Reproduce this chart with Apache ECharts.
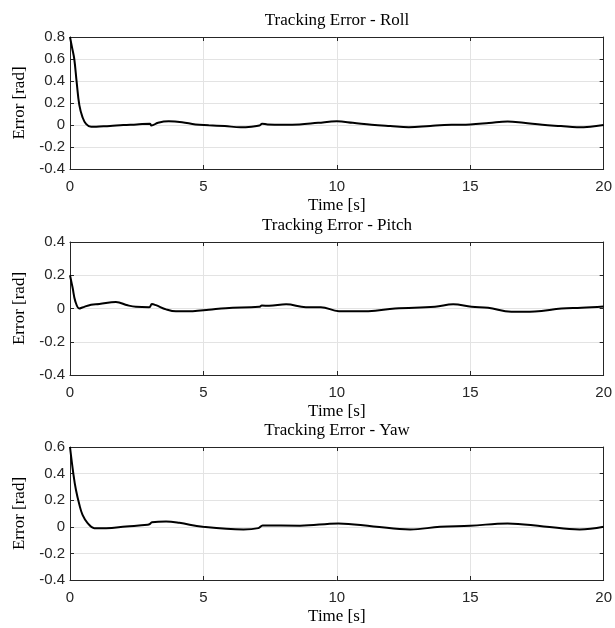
<!DOCTYPE html>
<html>
<head>
<meta charset="utf-8">
<script src="https://cdn.jsdelivr.net/npm/echarts@6/dist/echarts.min.js"></script>
<style>
  html, body { margin: 0; padding: 0; background: #fff; }
  #chart { width: 615px; height: 628px; }
</style>
</head>
<body>
<div id="chart"></div>
<script>
// tracking error
const rollT = [0, 0.08, 0.16, 0.25, 0.35, 0.47, 0.6, 0.79, 1.1, 1.5, 2, 2.5, 3.0, 3.05, 3.3, 3.7, 4.2, 4.7, 5.2, 5.8, 6.4, 6.8, 7.1, 7.2, 7.4, 8, 8.6, 9.3, 10, 10.6, 11.3, 12, 12.7, 13.5, 14.3, 15, 15.7, 16.4, 17, 17.7, 18.4, 19, 19.5, 20]
const rollE = [0.8, 0.7, 0.6, 0.39, 0.18, 0.07, 0.01, -0.017, -0.013, -0.008, 0, 0.005, 0.012, -0.005, 0.02, 0.033, 0.025, 0.005, -0.002, -0.01, -0.02, -0.015, -0.005, 0.012, 0.005, 0.002, 0.005, 0.02, 0.033, 0.02, 0.002, -0.01, -0.02, -0.008, 0.002, 0.005, 0.018, 0.032, 0.02, 0.002, -0.01, -0.02, -0.015, 0]

const pitchT = [0, 0.1, 0.2, 0.35, 0.46, 0.79, 1.1, 1.72, 2.16, 2.47, 2.97, 3.07, 3.22, 3.6, 3.97, 4.6, 5.2, 5.84, 7.09, 7.19, 7.46, 8.1, 8.84, 9.4, 10.08, 11.18, 12.18, 13.68, 14.36, 15.05, 15.67, 16.54, 17.42, 18.42, 19.17, 20]
const pitchE = [0.2, 0.123, 0.043, 0, 0.006, 0.023, 0.027, 0.039, 0.019, 0.01, 0.008, 0.027, 0.02, -0.005, -0.017, -0.016, -0.008, 0.002, 0.01, 0.018, 0.016, 0.025, 0.008, 0.008, -0.016, -0.016, 0, 0.01, 0.025, 0.01, 0.005, -0.02, -0.018, 0, 0.004, 0.012]

const yawT = [0, 0.125, 0.22, 0.35, 0.47, 0.66, 0.91, 1.35, 2.1, 2.91, 3.0, 3.07, 3.6, 4.1, 4.97, 6.5, 7.06, 7.22, 8.62, 10.06, 11.37, 12.75, 13.87, 15, 16.4, 17.75, 19.1, 20]
const yawE = [0.6, 0.4, 0.28, 0.167, 0.09, 0.028, -0.01, -0.01, 0.002, 0.015, 0.022, 0.035, 0.04, 0.03, 0, -0.02, -0.01, 0.01, 0.008, 0.025, 0.003, -0.02, 0, 0.008, 0.025, 0.003, -0.02, 0]

const titles = ['Tracking Error - Roll', 'Tracking Error - Pitch', 'Tracking Error - Yaw']
const yMins = [-0.4, -0.4, -0.4]
const yMaxs = [0.8, 0.4, 0.6]
const xTicks = [0, 20, 5]   // min, max, interval

const axisColor = '#262626'
const gridColor = '#e3e3e3'
const serif = '"Liberation Serif", "DejaVu Serif", serif'
const sans = '"Liberation Sans", Arial, sans-serif'

const grids = [
  { left: 70, top: 37, width: 534, height: 132 },
  { left: 70, top: 242, width: 534, height: 133 },
  { left: 70, top: 447, width: 534, height: 133 },
]

const pairs = (ts, vs) => ts.map((t, i) => [t, vs[i]])
const seriesData = [pairs(rollT, rollE), pairs(pitchT, pitchE), pairs(yawT, yawE)]

const xAxes = []
const yAxes = []
grids.forEach((g, i) => {
  // bottom axis with labels
  xAxes.push({
    type: 'value', gridIndex: i, min: xTicks[0], max: xTicks[1], interval: xTicks[2],
    name: 'Time [s]', nameLocation: 'middle', nameGap: 28,
    nameTextStyle: { fontFamily: serif, fontSize: 17, color: '#000' },
    axisLine: { show: true, onZero: false, lineStyle: { color: axisColor } },
    axisTick: { show: true, inside: true, length: 4, lineStyle: { color: axisColor } },
    axisLabel: { fontFamily: sans, fontSize: 15, color: axisColor, margin: 10 },
    splitLine: { show: true, lineStyle: { color: gridColor } },
  })
  // top box edge
  xAxes.push({
    type: 'value', gridIndex: i, position: 'top', min: xTicks[0], max: xTicks[1], interval: xTicks[2],
    axisLine: { show: true, onZero: false, lineStyle: { color: axisColor } },
    axisTick: { show: true, inside: true, length: 4, lineStyle: { color: axisColor } },
    axisLabel: { show: false },
    splitLine: { show: false },
  })
  yAxes.push({
    type: 'value', gridIndex: i, min: yMins[i], max: yMaxs[i], interval: 0.2,
    name: 'Error [rad]', nameLocation: 'middle', nameGap: 38,
    nameTextStyle: { fontFamily: serif, fontSize: 17, color: '#000' },
    axisLine: { show: true, onZero: false, lineStyle: { color: axisColor } },
    axisTick: { show: true, inside: true, length: 4, lineStyle: { color: axisColor } },
    axisLabel: { fontFamily: sans, fontSize: 15, color: axisColor, margin: 5 },
    splitLine: { show: true, lineStyle: { color: gridColor } },
  })
  // right box edge
  yAxes.push({
    type: 'value', gridIndex: i, position: 'right', min: yMins[i], max: yMaxs[i], interval: 0.2,
    axisLine: { show: true, onZero: false, lineStyle: { color: axisColor } },
    axisTick: { show: true, inside: true, length: 4, lineStyle: { color: axisColor } },
    axisLabel: { show: false },
    splitLine: { show: false },
  })
})

const chart = echarts.init(document.getElementById('chart'), null, { renderer: 'canvas' })
chart.setOption({
  backgroundColor: '#fff',
  animation: false,
  title: titles.map((t, i) => ({
    text: t,
    left: 337,
    top: grids[i].top - 25,
    textAlign: 'center',
    padding: 0,
    textStyle: { fontFamily: serif, fontSize: 17, fontWeight: 'normal', color: '#000' },
  })),
  grid: grids,
  xAxis: xAxes,
  yAxis: yAxes,
  series: seriesData.map((d, i) => ({
    type: 'line',
    xAxisIndex: i * 2,
    yAxisIndex: i * 2,
    data: d,
    smooth: 0.4,
    showSymbol: false,
    lineStyle: { color: '#000', width: 2 },
  })),
})
</script>
</body>
</html>
